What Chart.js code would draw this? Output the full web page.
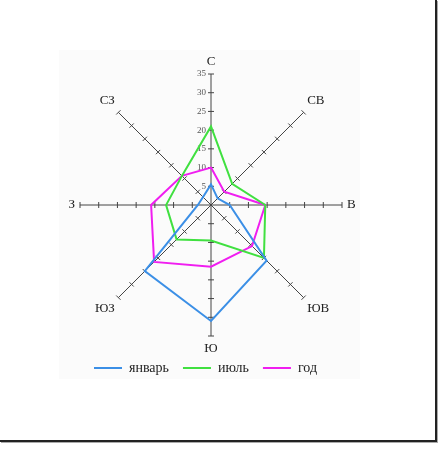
<!DOCTYPE html>
<html>
<head>
<meta charset="utf-8">
<script src="https://cdn.jsdelivr.net/npm/chart.js@4.4.0/dist/chart.umd.min.js"></script>
<style>
  body { margin: 0; background: #fff; }
  #frame { position: absolute; left: 0; top: 0; width: 435px; height: 440px;
           border-right: 2px solid #222; border-bottom: 2px solid #222; box-shadow: 1px 1px 0 #aaa; }
  #plotBg { position: absolute; left: 59px; top: 50px; width: 301px; height: 329px; background: #fbfbfb; }
  #myChart { position: absolute; left: 0; top: 0; }
</style>
</head>
<body>
<div id="frame"></div>
<div id="plotBg"></div>
<canvas id="myChart" width="446" height="453"></canvas>
<script>
var directions = ['С', 'СВ', 'В', 'ЮВ', 'Ю', 'ЮЗ', 'З', 'СЗ'];
// wind frequency, % by direction
var january = [5.5, 2.5, 5, 21, 31, 25, 3.5, 3];
var july = [21, 8, 14.5, 20, 9.5, 13, 12, 11];
var year = [10, 5, 14.5, 15.5, 16.5, 21.5, 16, 11];
var seriesNames = ['январь', 'июль', 'год'];
var maxValue = 35;
var stepValue = 5;

var serif = '"Liberation Serif", "DejaVu Serif", serif';

// cross ticks on each axis, numbers on the north axis, direction names
var axisMarks = {
  id: 'axisMarks',
  beforeDatasetsDraw: function (chart) {
    var scale = chart.scales.r;
    var ctx = chart.ctx;
    ctx.save();
    ctx.strokeStyle = '#444';
    ctx.lineWidth = 1;
    ctx.fillStyle = '#555';
    ctx.font = '9px ' + serif;
    ctx.textAlign = 'right';
    ctx.textBaseline = 'middle';
    scale.ticks.forEach(function (t) {
      if (t.value <= 0) return;
      var d = scale.getDistanceFromCenterForValue(t.value);
      for (var i = 0; i < directions.length; i++) {
        var a = scale.getIndexAngle(i) - Math.PI / 2;
        var p = scale.getPointPosition(i, d);
        var px = -Math.sin(a) * 3, py = Math.cos(a) * 3;
        ctx.beginPath();
        ctx.moveTo(p.x - px, p.y - py);
        ctx.lineTo(p.x + px, p.y + py);
        ctx.stroke();
      }
      ctx.fillText(String(t.value), scale.xCenter - 5, scale.yCenter - d);
    });

    var h = 13 * 1.2;
    ctx.fillStyle = '#222';
    ctx.font = '13px ' + serif;
    for (var i = 0; i < directions.length; i++) {
      var deg = Math.round(scale.getIndexAngle(i) * 180 / Math.PI) % 360;
      var p = scale.getPointPosition(i, scale.drawingArea + 5);
      var y = p.y;
      if (deg === 90 || deg === 270) y -= h / 2;
      else if (deg > 270 || deg < 90) y -= h;
      ctx.textAlign = (deg === 0 || deg === 180) ? 'center' : (deg < 180 ? 'left' : 'right');
      ctx.fillText(directions[i], p.x, y + h / 2);
    }
    ctx.restore();
  }
};

var ctx = document.getElementById('myChart');
var myChart = new Chart(ctx, {
  type: 'radar',
  data: {
    labels: directions,
    datasets: [
      { label: seriesNames[0], data: january, borderColor: '#3b8fe6', backgroundColor: '#3b8fe6', borderWidth: 2 },
      { label: seriesNames[1], data: july, borderColor: '#40e040', backgroundColor: '#40e040', borderWidth: 2 },
      { label: seriesNames[2], data: year, borderColor: '#f01ef0', backgroundColor: '#f01ef0', borderWidth: 2 }
    ]
  },
  options: {
    responsive: false,
    animation: false,
    layout: { padding: { left: 80, right: 104, top: 63, bottom: 68 } },
    elements: {
      line: { borderWidth: 2, fill: false, tension: 0 },
      point: { radius: 0, hoverRadius: 0 }
    },
    plugins: {
      legend: {
        position: 'bottom',
        align: 'start',
        labels: {
          usePointStyle: true,
          pointStyle: 'line',
          pointStyleWidth: 28,
          padding: 14,
          color: '#222',
          font: { family: serif, size: 14 }
        }
      },
      tooltip: { enabled: false }
    },
    scales: {
      r: {
        min: 0,
        max: maxValue,
        ticks: { stepSize: stepValue, display: false },
        grid: { display: false },
        angleLines: { color: '#444', lineWidth: 1 },
        pointLabels: { display: false }
      }
    }
  },
  plugins: [axisMarks]
});
</script>
</body>
</html>
